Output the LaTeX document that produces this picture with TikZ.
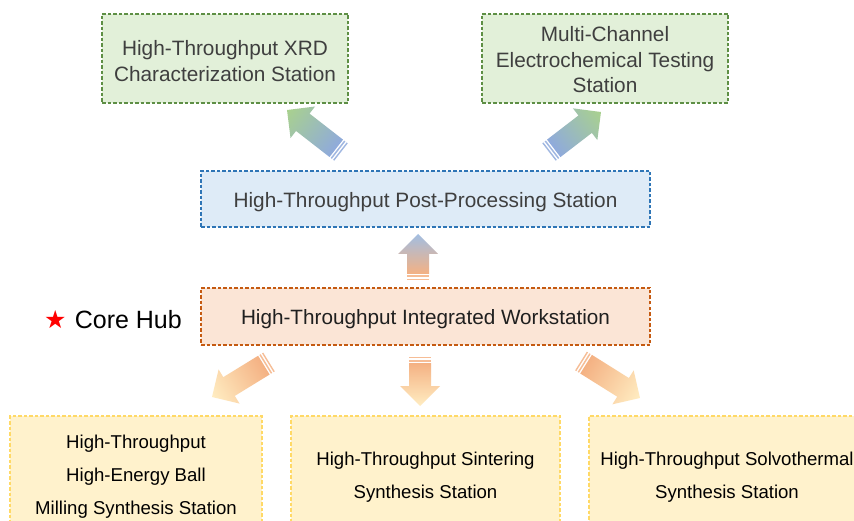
\documentclass[tikz,border=0pt]{standalone}
\usepackage{fontspec}
\setmainfont{Liberation Sans}
\newfontfamily\symfont{DejaVu Sans}
\usetikzlibrary{calc}
\definecolor{gfill}{HTML}{E2F0D9}
\definecolor{gline}{HTML}{5E8F45}
\definecolor{bfill}{HTML}{DEEBF7}
\definecolor{bline}{HTML}{2E75B6}
\definecolor{ofill}{HTML}{FBE5D6}
\definecolor{oline}{HTML}{C55A11}
\definecolor{yfill}{HTML}{FFF2CC}
\definecolor{yline}{HTML}{FFD966}
\definecolor{txtgray}{HTML}{3F3F3F}
\definecolor{agreen}{HTML}{A9D18E}
\definecolor{ablue}{HTML}{8FAADC}
\definecolor{ablueup}{HTML}{A2BEE2}
\definecolor{aorange}{HTML}{F4B183}
\definecolor{ayellow}{HTML}{FFEDC2}
\tikzset{
  box/.style={draw, dash pattern=on 3.5pt off 2pt, line width=1.1pt, inner sep=0pt, align=center,
    text depth=0pt},
  greenbox/.style={box, fill=gfill, draw=gline, minimum width=246pt, minimum height=89pt,
    font=\fontsize{20.8}{25.5}\selectfont, text=txtgray},
  bluebox/.style={box, fill=bfill, draw=bline, minimum width=449pt, minimum height=56pt,
    font=\fontsize{20.8}{25.5}\selectfont, text=txtgray, text height=16.9pt},
  orangebox/.style={box, fill=ofill, draw=oline, minimum width=449pt, minimum height=57pt,
    font=\fontsize{20.7}{25.5}\selectfont, text=black!88, text height=16.9pt},
  yellowbox/.style={box, fill=yfill, draw=yline, minimum height=118pt,
    font=\fontsize{18.6}{33}\selectfont, text=black},
}
% block arrow: #1,#2 base; #3,#4 tip; #5 base colour; #6 tip colour; #7 name
\newcommand\blockarr[7]{%
  \coordinate (#7-s) at (#1,#2);
  \coordinate (#7-e) at (#3,#4);
  \pgfmathsetmacro\barang{atan2((#4)-(#2),(#3)-(#1))}%
  \pgfmathsetmacro\barlen{veclen((#3)-(#1),(#4)-(#2))}%
  \pgfmathsetmacro\barneck{\barlen-20}%
  \begin{scope}[transform canvas={shift={(#7-s)},rotate=\barang}]
    \shade[left color=#5, right color=#6]
      (6,-11) -- (\barneck,-11) -- (\barneck,-20) -- (\barlen,0) -- (\barneck,20)
      -- (\barneck,11) -- (6,11) -- cycle;
    \fill[#5!85!white] (0,-11) rectangle (1.4,11);
    \fill[#5!85!white] (3,-11) rectangle (4.5,11);
  \end{scope}}
\begin{document}
\begin{tikzpicture}[x=1pt,y=1pt]
\useasboundingbox (0,0) rectangle (854,520);
\clip (0,0) rectangle (854,520);
\fill[white] (0,0) rectangle (854,520);

\node[greenbox, text height=46pt] (xrd) at (225,461.5) {High-Throughput XRD\\Characterization Station};
\node[greenbox, text height=68.9pt] (mc) at (605,461.5) {Multi-Channel\\Electrochemical Testing\\Station};
\node[bluebox] (post) at (425.5,321) {High-Throughput Post-Processing Station};
\node[orangebox] (hub) at (425.5,203.5) {High-Throughput Integrated Workstation};
\node[anchor=east, font=\fontsize{25}{30}\selectfont, text=black, inner sep=0pt] (core) at (182,200)
  {{\symfont\color{red}★}\,\,Core Hub};

\node[yellowbox, minimum width=252pt, text height=79.3pt] (b1) at (136,45)
  {High-Throughput\\High-Energy Ball\\Milling Synthesis Station};
\node[yellowbox, minimum width=269pt, text height=46.3pt] (b2) at (425.5,45)
  {High-Throughput Sintering\\Synthesis Station};
\node[yellowbox, minimum width=276pt, text height=46.3pt] (b3) at (727,45)
  {High-Throughput Solvothermal\\Synthesis Station};

\blockarr{341}{368}{287}{410}{ablue}{agreen}{a1}
\blockarr{549}{368}{601}{408}{ablue}{agreen}{a2}
\blockarr{418}{240}{418}{286}{aorange}{ablueup}{a3}
\blockarr{269}{158}{212}{123}{aorange}{ayellow}{a4}
\blockarr{420}{163}{420}{114}{aorange}{ayellow}{a5}
\blockarr{581}{159}{640}{122}{aorange}{ayellow}{a6}
\end{tikzpicture}
\end{document}
